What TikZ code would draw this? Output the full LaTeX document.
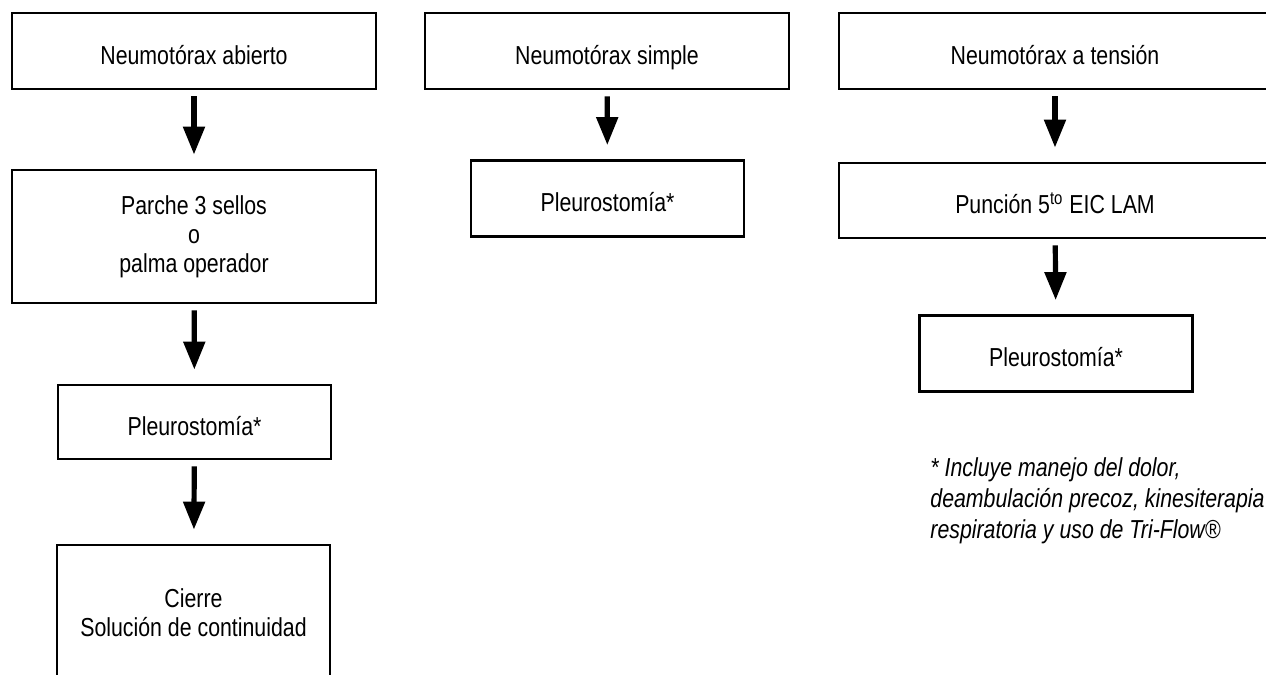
\documentclass[tikz,border=0pt]{standalone}
\usepackage{fontspec}
\setmainfont{Liberation Sans}[FakeStretch=0.82]
\usetikzlibrary{arrows.meta}

\begin{document}
\begin{tikzpicture}[x=0.5pt,y=-0.5pt,font=\fontsize{13}{14.5}\selectfont,
  caja/.style={draw,line width=1.4pt,align=center,inner sep=0pt,minimum height=38pt},
  linea/.style={text height=13pt,text depth=0pt},
  ancha/.style={caja,minimum width=182pt},
  angosta/.style={caja,minimum width=136.5pt},
  flecha/.style={line width=2.6pt,-{Triangle[width=10.5pt,length=14pt]},shorten <=3pt,shorten >=7pt}]

\useasboundingbox (0,0) rectangle (1266,675);
\clip (0,0) rectangle (1266,675);

%Neumotorax abierto
\node[ancha,linea] (abierto) at (194,51) {Neumotórax abierto};
\node[ancha,minimum height=66.5pt] (parche) at (194,236.5) {Parche 3 sellos\\o\\palma operador};
\node[angosta,linea,minimum height=37pt] (pleuroA) at (194.5,422) {Pleurostomía*};
\node[angosta,minimum height=68pt] (cierre) at (193.5,613) {Cierre\\Solución de continuidad};

\draw[flecha] (abierto) -- (parche);
\draw[flecha] (parche) -- (pleuroA);
\draw[flecha] (pleuroA) -- (cierre);

%Neumotorax simple
\node[ancha,linea] (simple) at (607,51) {Neumotórax simple};
\node[angosta,linea] (pleuroB) at (607.5,198.5) {Pleurostomía*};

\draw[flecha] (simple) -- (pleuroB);

%Neumotorax a tension
\node[ancha,linea,minimum width=216pt] (tension) at (1055,51) {Neumotórax a tensión};
\node[ancha,linea,minimum width=216pt,minimum height=37.5pt] (puncion) at (1055,200.5) {Punción 5\textsuperscript{to} EIC LAM};
\node[angosta,linea] (pleuroC) at (1056,353.5) {Pleurostomía*};

\draw[flecha] (tension) -- (puncion);
\draw[flecha] (puncion) -- (pleuroC);

%Nota
\node[anchor=north west,align=left,inner sep=0pt,font=\fontsize{13}{15.5}\selectfont\itshape] (nota) at (930,457)
  {* Incluye manejo del dolor,\\deambulación precoz, kinesiterapia\\respiratoria y uso de Tri-Flow®};

\end{tikzpicture}
\end{document}
